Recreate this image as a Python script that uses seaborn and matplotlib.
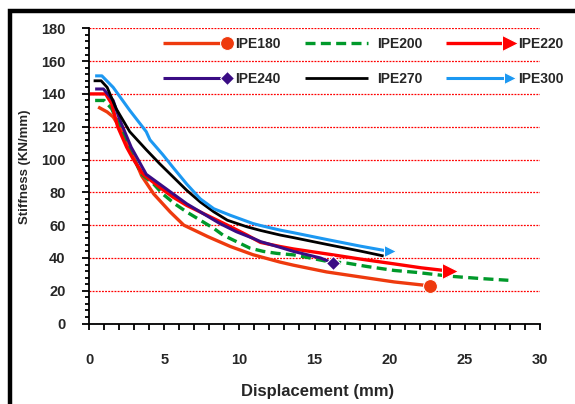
import matplotlib
matplotlib.use("Agg")
import matplotlib.pyplot as plt
import matplotlib.patches as mpatches
from matplotlib.lines import Line2D
from matplotlib.legend_handler import HandlerBase
from matplotlib.ticker import MultipleLocator
import seaborn as sns

ipe180_x = [0.6, 1.2, 1.6, 2.0, 2.7, 3.5, 4.3, 5.4, 6.3, 7.9, 9.4, 10.9, 12.7, 13.6, 15.8, 18.0, 20.3, 22.7]
ipe180_y = [132, 129, 126, 120, 107, 90, 79, 68, 60, 53, 47, 42, 37.5, 35.6, 31.5, 28.5, 25.4, 23]

ipe200_x = [0.4, 1.0, 1.5, 2.05, 2.7, 3.5, 4.3, 4.9, 5.7, 6.5, 7.4, 8.3, 8.9, 9.8, 10.7, 11.6, 12.5,
            13.6, 14.7, 15.8, 17.2, 18.5, 20.3, 21.8, 24.0, 26.0, 27.9]
ipe200_y = [136, 136, 131, 120, 105.5, 91, 85, 79, 73, 68, 63, 58, 54, 50, 46, 44, 42.8,
            41.9, 40, 38, 36.8, 34.8, 32.4, 31.2, 28.9, 27.5, 26.4]

ipe220_x = [0.05, 1.1, 1.5, 1.9, 2.5, 2.95, 3.6, 4.7, 5.6, 6.5, 7.4, 8.3, 9.2, 10.5, 11.4, 12.7,
            13.6, 15.8, 18.0, 20.3, 22.1, 24.0]
ipe220_y = [140, 140, 134, 120, 107.5, 100, 91, 83, 77, 72, 68, 64, 60, 54, 49.5, 47,
            45.5, 42.5, 39.4, 36.4, 34, 32]

ipe240_x = [0.4, 0.95, 1.6, 2.05, 2.8, 3.8, 4.7, 5.6, 6.5, 7.6, 8.7, 9.8, 10.9, 11.4, 12.7, 13.6, 15.4, 16.2]
ipe240_y = [143, 143, 136, 124, 107.5, 91, 85, 79, 73, 67, 61, 56, 52, 50, 46.5, 44, 40, 37]

ipe270_x = [0.3, 0.8, 1.2, 1.8, 2.7, 3.8, 4.7, 5.6, 6.5, 7.4, 8.3, 9.2, 10.5, 11.4, 12.7, 13.6,
            15.8, 18.0, 19.6]
ipe270_y = [148, 148, 144, 131, 117, 106, 97.4, 89.3, 81.2, 74.1, 68.1, 63, 59, 56.8, 54, 52.4,
            48.3, 44.3, 41.2]

ipe300_x = [0.4, 0.85, 1.6, 2.7, 3.8, 4.05, 4.9, 5.6, 6.5, 7.4, 8.3, 9.4, 10.9, 11.4, 12.7, 13.6,
            15.8, 18.0, 20.0]
ipe300_y = [151, 151, 144, 130, 117, 112, 103, 95, 85, 76, 70, 66, 61, 59.8, 57, 55.4,
            51.3, 47.3, 44]

series = [
    ("IPE180", ipe180_x, ipe180_y, dict(color="#EE3A0E", lw=2.4, marker="o", ms=10)),
    ("IPE200", ipe200_x, ipe200_y, dict(color="#00992A", lw=2.4, ls=(0, (3, 1.6)))),
    ("IPE220", ipe220_x, ipe220_y, dict(color="#FF0000", lw=2.4, marker=">", ms=11)),
    ("IPE240", ipe240_x, ipe240_y, dict(color="#3A0C84", lw=2.2, marker="D", ms=7)),
    ("IPE270", ipe270_x, ipe270_y, dict(color="black", lw=2.0)),
    ("IPE300", ipe300_x, ipe300_y, dict(color="#1C98F2", lw=2.2, marker=">", ms=8)),
]


class EndMarkerHandler(HandlerBase):
    # legend line with the marker sitting on its right end
    def create_artists(self, legend, orig_handle, xdescent, ydescent,
                       width, height, fontsize, trans):
        y = (height - ydescent) / 2
        line = Line2D([-xdescent, -xdescent + width], [y, y])
        line.update_from(orig_handle)
        line.set_marker("None")
        line.set_transform(trans)
        mark = Line2D([-xdescent + width], [y])
        mark.update_from(orig_handle)
        mark.set_linestyle("None")
        mark.set_markevery(None)
        mark.set_transform(trans)
        return [line, mark]


sns.set_style("white")
plt.rcParams["font.family"] = ["Liberation Sans", "DejaVu Sans"]
plt.rcParams["font.weight"] = "bold"

fig = plt.figure(figsize=(5.75, 4.04), dpi=100)
ax = fig.add_axes([0.155, 0.199, 0.784, 0.731])

lines = {}
for name, xs, ys, style in series:
    sns.lineplot(x=xs, y=ys, ax=ax, sort=False, estimator=None, label=name,
                 markevery=[-1], solid_capstyle="butt", **style)
    lines[name] = ax.get_lines()[-1]

ax.set_xlim(0, 30)
ax.set_ylim(0, 180)
ax.xaxis.set_major_locator(MultipleLocator(5))
ax.xaxis.set_minor_locator(MultipleLocator(1))
ax.yaxis.set_major_locator(MultipleLocator(20))
ax.yaxis.set_minor_locator(MultipleLocator(4))
ax.yaxis.grid(True, which="major", color="red", ls=(0, (1.5, 1)), lw=0.9)
ax.xaxis.grid(False)
ax.set_axisbelow(True)

for side in ["top", "right"]:
    ax.spines[side].set_visible(False)
for side in ["left", "bottom"]:
    ax.spines[side].set_color("black")
    ax.spines[side].set_linewidth(1.3)

ax.tick_params(axis="x", which="both", direction="out", length=4, width=1.3,
               color="black", bottom=True, pad=17, labelsize=10.5)
ax.tick_params(axis="y", which="major", direction="out", length=5, width=1.3,
               color="black", left=True, pad=12, labelsize=10.5)
ax.tick_params(axis="y", which="minor", direction="out", length=3, width=1.3,
               color="black", left=True)
for lab in ax.get_xticklabels() + ax.get_yticklabels():
    lab.set_fontweight("bold")

ax.set_xlabel("Displacement (mm)", fontsize=12, fontweight="bold")
ax.set_ylabel("Stiffness (KN/mm)", fontsize=9.5, fontweight="bold")
ax.xaxis.set_label_coords(0.506, -0.205)
ax.yaxis.set_label_coords(-0.128, 0.53)

order = ["IPE180", "IPE240", "IPE200", "IPE270", "IPE220", "IPE300"]
ax.legend([lines[n] for n in order], order, ncol=3, frameon=False,
          loc="upper left", bbox_to_anchor=(0.149, 0.995), borderpad=0,
          handlelength=4.6, handletextpad=0.6, columnspacing=1.7, labelspacing=1.5,
          prop={"weight": "bold", "size": 10},
          handler_map={Line2D: EndMarkerHandler()})

fig.add_artist(mpatches.Rectangle((0.018, -0.1), 1.2, 1.073, transform=fig.transFigure,
                                  fill=False, ec="black", lw=3.2))

fig.savefig("out.png", dpi=100)
